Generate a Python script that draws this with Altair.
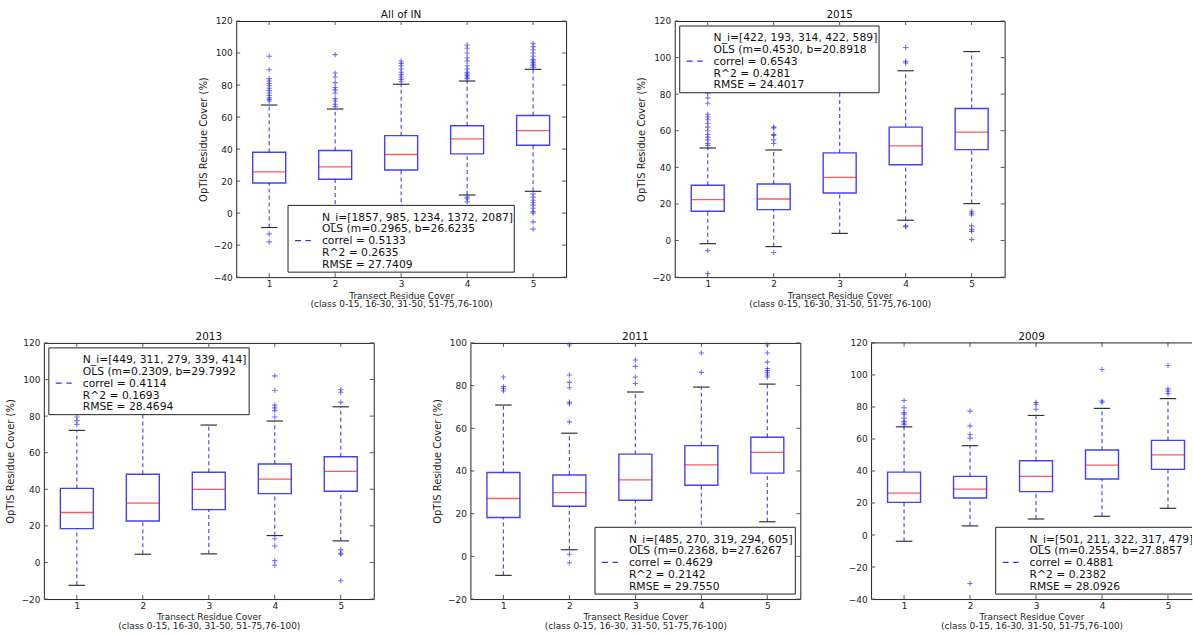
import altair as alt
import pandas as pd

CLASSES = [1, 2, 3, 4, 5]
Y_TITLE = "OpTIS Residue Cover (%)"
X_TITLE = ["Transect Residue Cover", "(class 0-15, 16-30, 31-50, 51-75,76-100)"]

# ---- All of IN ----
ALL_Q1 = [18.8, 21.1, 26.9, 37.0, 42.4]
ALL_MED = [25.8, 28.9, 36.6, 46.3, 51.5]
ALL_Q3 = [38.0, 39.1, 48.4, 54.6, 61.0]
ALL_LO = [-9.0, -3.0, -2.0, 11.3, 13.6]
ALL_HI = [67.5, 65.0, 80.5, 82.5, 89.8]
ALL_OUT = [
    [-18, -13, 70, 71, 72, 73.5, 75, 76.5, 78, 79.5, 81, 82.5, 84, 89.5, 98],
    [66.5, 68, 70, 71.5, 75, 77, 78.5, 81.5, 85, 87.5, 99],
    [82, 83.5, 85, 86.5, 88, 90, 92, 93.5, 95],
    [7, 9, 10, 84, 85, 86, 87, 88, 90, 92, 95, 97, 100, 103, 105],
    [-10, -5.5, 0, 1, 3, 5, 6.5, 8, 10, 12, 91, 92, 93, 94, 95, 96, 98, 100, 102, 104, 106],
]
ALL_LEGEND = ["N_i=[1857, 985, 1234, 1372, 2087]", "OLS (m=0.2965, b=26.6235",
              "correl = 0.5133", "R^2 = 0.2635", "RMSE = 27.7409"]

# ---- 2015 ----
Y2015_Q1 = [16.0, 16.9, 26.0, 41.4, 49.7]
Y2015_MED = [22.4, 22.7, 34.5, 51.7, 59.3]
Y2015_Q3 = [30.2, 30.9, 47.9, 62.0, 72.2]
Y2015_LO = [-1.7, -3.3, 3.9, 11.1, 20.2]
Y2015_HI = [50.6, 49.5, 88.0, 92.8, 103.3]
Y2015_OUT = [
    [-18, -5.5, 52, 53, 55, 56.5, 58, 60, 62, 64, 66, 67.5, 69, 75, 78, 80.5],
    [-6.5, 53, 55, 57.5, 58, 61.5, 62],
    [],
    [7.5, 8, 97, 98, 105.5],
    [0.5, 5, 6, 8, 14, 15, 16],
]
Y2015_LEGEND = ["N_i=[422, 193, 314, 422, 589]", "OLS (m=0.4530, b=20.8918",
                "correl = 0.6543", "R^2 = 0.4281", "RMSE = 24.4017"]

# ---- 2013 ----
Y2013_Q1 = [18.5, 22.7, 28.9, 37.6, 38.9]
Y2013_MED = [27.3, 32.4, 40.0, 45.6, 49.8]
Y2013_Q3 = [40.5, 48.2, 49.3, 53.8, 57.8]
Y2013_LO = [-12.5, 4.5, 4.7, 14.7, 11.8]
Y2013_HI = [72.2, 90.0, 75.1, 77.3, 85.1]
Y2013_OUT = [
    [75.5, 77.5, 79.5],
    [],
    [],
    [-1.5, 1, 9, 13, 79.5, 83, 84.5, 86, 94, 102],
    [-10, 4.5, 5, 7, 87.5, 93, 94.5],
]
Y2013_LEGEND = ["N_i=[449, 311, 279, 339, 414]", "OLS (m=0.2309, b=29.7992",
                "correl = 0.4114", "R^2 = 0.1693", "RMSE = 28.4694"]

# ---- 2011 ----
Y2011_Q1 = [18.2, 23.5, 26.3, 33.3, 39.0]
Y2011_MED = [27.1, 29.9, 35.8, 42.9, 48.7]
Y2011_Q3 = [39.3, 38.1, 47.9, 51.9, 55.8]
Y2011_LO = [-8.9, 3.1, 2.0, 5.0, 16.2]
Y2011_HI = [70.9, 57.7, 77.0, 79.3, 80.7]
Y2011_OUT = [
    [77.5, 78.5, 79.5, 84],
    [-3, 1, 63, 71.5, 72.2, 79, 81.5, 85, 99],
    [81, 84, 89, 92],
    [86.2, 95.3],
    [84, 85, 86, 87, 88, 91, 95.3, 99],
]
Y2011_LEGEND = ["N_i=[485, 270, 319, 294, 605]", "OLS (m=0.2368, b=27.6267",
                "correl = 0.4629", "R^2 = 0.2142", "RMSE = 29.7550"]

# ---- 2009 ----
Y2009_Q1 = [20.4, 23.1, 27.1, 35.0, 41.0]
Y2009_MED = [26.2, 28.7, 36.6, 43.7, 50.1]
Y2009_Q3 = [39.3, 36.6, 46.4, 53.1, 59.1]
Y2009_LO = [-3.9, 5.7, 10.0, 11.7, 16.7]
Y2009_HI = [67.6, 55.8, 74.7, 79.1, 85.2]
Y2009_OUT = [
    [69, 70, 71, 73, 75.5, 76.5, 79.5, 84],
    [-30.3, 60.5, 62.8, 68.2, 77.4],
    [78.6, 81.7, 82.8],
    [82.9, 83.7, 103.4],
    [88.3, 89.8, 91.3, 105.9],
]
Y2009_LEGEND = ["N_i=[501, 211, 322, 317, 479]", "OLS (m=0.2554, b=27.8857",
                "correl = 0.4881", "R^2 = 0.2382", "RMSE = 28.0926"]

# ---- styling ----
FONT = "DejaVu Sans"
BLUE = "#0000ff"
RED = "#ff0000"
FRAME = "#222222"
CAP = "#333333"
TICK = "#555555"
PLUS = "M -1 0 L 1 0 M 0 -1 L 0 1"
W, H = 331, 257
UNIT = W / 5.0
LEG_H = 67
LINE_H = 11.8
LEG_FONT = 10.8


def box_table(q1, med, q3, lo, hi):
    df = pd.DataFrame({"cls": CLASSES, "q1": q1, "med": med, "q3": q3, "lo": lo, "hi": hi})
    df["left"] = df["cls"] - 0.25
    df["right"] = df["cls"] + 0.25
    df["capl"] = df["cls"] - 0.125
    df["capr"] = df["cls"] + 0.125
    return df


def outlier_table(out):
    rows = [(c, v) for c, vals in zip(CLASSES, out) for v in vals]
    return pd.DataFrame(rows, columns=["cls", "val"])


def panel(title, q1, med, q3, lo, hi, out, legend, ydom, leg_x, leg_y, leg_w,
          width=W, ytitle=True, open_right=False):
    xmax = 0.5 + width / UNIT
    xs = alt.Scale(domain=[0.5, xmax], nice=False, zero=False)
    ys = alt.Scale(domain=ydom, nice=False, zero=False)
    yticks = list(range(ydom[0], ydom[1] + 1, 20))

    xaxis_kw = dict(values=CLASSES, format="d", title=X_TITLE)
    yaxis_kw = dict(values=yticks, format="d", title=Y_TITLE if ytitle else "",
                    titleY=H / 2 - 10)
    if open_right:
        xaxis_kw.update(domain=True, domainColor=FRAME, domainWidth=1)
        yaxis_kw.update(domain=True, domainColor=FRAME, domainWidth=1)
    xaxis = alt.Axis(**xaxis_kw)
    yaxis = alt.Axis(**yaxis_kw)

    def X(f):
        return alt.X(f, type="quantitative", scale=xs, axis=xaxis)

    def Y(f):
        return alt.Y(f, type="quantitative", scale=ys, axis=yaxis)

    boxes = box_table(q1, med, q3, lo, hi)
    outs = outlier_table(out)
    base = alt.Chart(boxes)

    whisk = dict(color=BLUE, strokeDash=[4, 3], strokeWidth=1.2, opacity=0.7)
    whisk_lo = base.mark_rule(**whisk).encode(x=X("cls"), y=Y("lo"), y2="q1")
    whisk_hi = base.mark_rule(**whisk).encode(x=X("cls"), y=Y("q3"), y2="hi")
    box = base.mark_rect(fill="white", fillOpacity=0, stroke=BLUE, strokeWidth=1.4,
                         strokeOpacity=0.75).encode(x=X("left"), x2="right", y=Y("q1"), y2="q3")
    median = base.mark_rule(color=RED, strokeWidth=1.3, opacity=0.65).encode(
        x=X("left"), x2="right", y=Y("med"))
    cap_lo = base.mark_rule(color=CAP, strokeWidth=1.2).encode(x=X("capl"), x2="capr", y=Y("lo"))
    cap_hi = base.mark_rule(color=CAP, strokeWidth=1.2).encode(x=X("capl"), x2="capr", y=Y("hi"))
    fliers = alt.Chart(outs).mark_point(shape=PLUS, size=28, color=BLUE, filled=False,
                                        strokeWidth=1.1, opacity=0.55).encode(x=X("cls"), y=Y("val"))

    xt = pd.DataFrame({"t": CLASSES})
    yt = pd.DataFrame({"t": yticks})
    tick = dict(color=TICK, strokeWidth=1)
    ticks = [
        alt.Chart(xt).mark_rule(**tick).encode(x=X("t"), y=alt.value(H), y2=alt.value(H - 4)),
        alt.Chart(xt).mark_rule(**tick).encode(x=X("t"), y=alt.value(0), y2=alt.value(4)),
        alt.Chart(yt).mark_rule(**tick).encode(y=Y("t"), x=alt.value(0), x2=alt.value(4)),
    ]
    if not open_right:
        ticks.append(alt.Chart(yt).mark_rule(**tick).encode(
            y=Y("t"), x=alt.value(width), x2=alt.value(width - 4)))

    one = pd.DataFrame({"k": [0]})
    leg_box = alt.Chart(one).mark_rect(fill="white", stroke=FRAME, strokeWidth=1, clip=True).encode(
        x=alt.value(leg_x), x2=alt.value(leg_x + leg_w),
        y=alt.value(leg_y), y2=alt.value(leg_y + LEG_H))
    leg_dash = alt.Chart(one).mark_rule(color=BLUE, strokeDash=[6, 4.5], strokeWidth=1.3,
                                        opacity=0.8).encode(
        x=alt.value(leg_x + 7), x2=alt.value(leg_x + 23),
        y=alt.value(leg_y + 11.7 + 2 * LINE_H))
    leg_text = alt.Chart(one).mark_text(text=legend, align="left", baseline="top", font=FONT,
                                        fontSize=LEG_FONT, lineHeight=LINE_H, color="#111111",
                                        clip=True).encode(
        x=alt.value(leg_x + 34), y=alt.value(leg_y + 11.7 - 0.49 * LEG_FONT))

    layers = [whisk_lo, whisk_hi, box, median, cap_lo, cap_hi, fliers] + ticks + [leg_box, leg_dash, leg_text]
    if open_right:
        layers.append(alt.Chart(one).mark_rule(color=FRAME, strokeWidth=1).encode(
            x=alt.value(0), x2=alt.value(width), y=alt.value(0)))

    chart = alt.layer(*layers).properties(width=width, height=H, title=title)
    if open_right:
        chart = chart.properties(view=alt.ViewBackground(strokeWidth=0))
    return chart


def spacer(w):
    one = pd.DataFrame({"k": [0]})
    return alt.Chart(one).mark_rect(opacity=0).encode(
        x=alt.value(0), x2=alt.value(w), y=alt.value(0), y2=alt.value(1)
    ).properties(width=w, height=H, view=alt.ViewBackground(strokeWidth=0))


p_all = panel("All of IN", ALL_Q1, ALL_MED, ALL_Q3, ALL_LO, ALL_HI, ALL_OUT, ALL_LEGEND,
              [-40, 120], 52, 185, 227)
p_2015 = panel("2015", Y2015_Q1, Y2015_MED, Y2015_Q3, Y2015_LO, Y2015_HI, Y2015_OUT, Y2015_LEGEND,
               [-20, 120], 5, 5, 200)
p_2013 = panel("2013", Y2013_Q1, Y2013_MED, Y2013_Q3, Y2013_LO, Y2013_HI, Y2013_OUT, Y2013_LEGEND,
               [-20, 120], 5, 5, 201)
p_2011 = panel("2011", Y2011_Q1, Y2011_MED, Y2011_Q3, Y2011_LO, Y2011_HI, Y2011_OUT, Y2011_LEGEND,
               [-20, 100], 125, 185, 201)
p_2009 = panel("2009", Y2009_Q1, Y2009_MED, Y2009_Q3, Y2009_LO, Y2009_HI, Y2009_OUT, Y2009_LEGEND,
               [-40, 120], 125, 185, 201, width=322, ytitle=False, open_right=True)

top = alt.hconcat(spacer(83.5), p_all, p_2015, spacing=109, bounds="flush")
bottom = alt.hconcat(p_2013, spacer(76.3), p_2011, spacer(50.7), p_2009, spacing=10, bounds="flush")

chart = alt.vconcat(top, bottom, spacing=22).properties(
    padding={"left": 5, "top": 9, "right": 0, "bottom": 0},
    background="white",
).configure_view(
    stroke=FRAME, strokeWidth=1
).configure_axis(
    labelFont=FONT, labelFontSize=9, labelColor="#222222",
    titleFont=FONT, titleFontSize=9, titleFontWeight="normal", titleColor="#222222",
    ticks=False, domain=False, grid=False, labelPadding=4,
).configure_axisX(
    labelPadding=2, titlePadding=3, titleLineHeight=8.6,
).configure_axisY(
    titlePadding=5, titleFontSize=10,
).configure_title(
    font=FONT, fontSize=10.5, fontWeight="normal", color="#111111", offset=0, frame="group",
    dy=8,
)

chart.save("out.html", embed_options={"renderer": "svg", "actions": False})
